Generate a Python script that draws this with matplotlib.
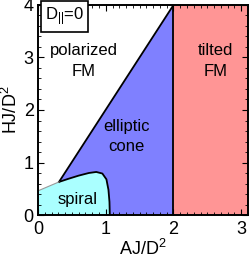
import numpy as np
import matplotlib.pyplot as plt
from matplotlib.ticker import MultipleLocator

plt.rcParams['font.family'] = ['Liberation Sans', 'DejaVu Sans']
plt.rcParams['mathtext.fontset'] = 'custom'
plt.rcParams['mathtext.rm'] = 'Liberation Sans'
plt.rcParams['mathtext.it'] = 'Liberation Sans'

# phase boundaries
cone_x = [0.31, 2.0]      # line H = 2A
cone_y = [0.63, 4.0]
tilted_x = 2.0
spiral_x = [0.31, 0.45, 0.6, 0.75, 0.86, 0.95, 1.01, 1.04, 1.055, 1.06]
spiral_y = [0.63, 0.69, 0.75, 0.80, 0.82, 0.79, 0.68, 0.48, 0.25, 0.0]
left_x = [0.0, 0.31]
left_y = [0.46, 0.63]

c_spiral = '#aaffff'
c_cone = '#7f80ff'
c_tilted = '#ff9595'

fig = plt.figure(figsize=(2.5, 2.63), dpi=100)
ax = fig.add_axes([0.152, 0.1825, 0.84, 0.7985])
xmax, ymax = 3.1, 4.0

ax.fill_between([tilted_x, xmax], 0, ymax, color=c_tilted, lw=0)
ax.fill(cone_x + [tilted_x, cone_x[0]], cone_y + [0, 0], color=c_cone, lw=0)
sx = left_x + spiral_x[1:]
sy = left_y + spiral_y[1:]
ax.fill(sx + [0], sy + [0], color=c_spiral, lw=0)

ax.plot(cone_x, cone_y, color='k', lw=1.3)
ax.plot([tilted_x, tilted_x], [0, ymax], color='k', lw=1.3)
ax.plot(spiral_x, spiral_y, color='k', lw=1.3)
ax.plot(left_x, left_y, color='#999999', lw=0.8)

fs = 12
ax.text(0.68, 2.93, 'polarized\nFM', ha='center', va='center', fontsize=fs, linespacing=1.45)
ax.text(2.62, 2.93, 'tilted\nFM', ha='center', va='center', fontsize=fs, linespacing=1.45)
ax.text(1.3, 1.5, 'elliptic\ncone', ha='center', va='center', fontsize=fs, linespacing=1.45)
ax.text(0.59, 0.3, 'spiral', ha='center', va='center', fontsize=fs)
ax.text(0.1, 3.78, r'D$_{||}$=0', ha='left', va='center', fontsize=fs,
        bbox=dict(boxstyle='square,pad=0.25', fc='white', ec='k', lw=1.2))

ax.set_xlim(0, xmax)
ax.set_ylim(0, ymax)
ax.xaxis.set_major_locator(MultipleLocator(1))
ax.xaxis.set_minor_locator(MultipleLocator(0.1))
ax.yaxis.set_major_locator(MultipleLocator(1))
ax.yaxis.set_minor_locator(MultipleLocator(0.2))
ax.tick_params(which='both', direction='in', top=True, right=True, labelsize=13)
ax.tick_params(axis='x', pad=4)
ax.tick_params(axis='y', pad=3)
ax.tick_params(which='major', length=4)
ax.tick_params(which='minor', length=2)
for s in ax.spines.values():
    s.set_linewidth(1.4)
ax.set_xlabel('AJ/D$^2$', fontsize=13, labelpad=1)
ax.set_ylabel('HJ/D$^2$', fontsize=13, labelpad=2)

fig.savefig('out.png', dpi=100)
